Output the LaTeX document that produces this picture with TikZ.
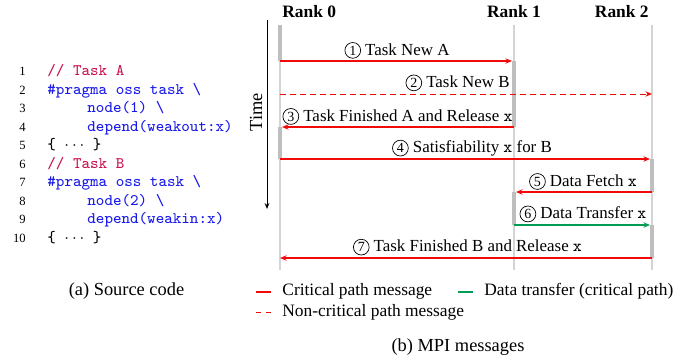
\documentclass[tikz,border=0pt]{standalone}
\usepackage{fontspec}
\setmainfont{Liberation Serif}
\usetikzlibrary{arrows.meta}
\definecolor{codeblue}{RGB}{25,25,235}
\definecolor{codecom}{RGB}{200,20,80}
\definecolor{msgred}{RGB}{240,10,10}
\definecolor{msggreen}{RGB}{0,155,85}
\definecolor{lifegray}{RGB}{212,212,212}
\definecolor{bargray}{RGB}{190,190,190}
\newcommand\cnum[1]{\tikz[baseline=(cn.base)]\node[circle,draw=black,line width=0.35pt,inner sep=0.75pt,anchor=center,font=\fontsize{7}{7}\selectfont,text=black](cn){#1};}
\begin{document}
\begin{tikzpicture}[x=0.5pt,y=-0.5pt,
  rank/.style={font=\fontsize{8.7}{10}\selectfont\bfseries, inner sep=0pt},
  lbl/.style={font=\fontsize{8.45}{9.6}\selectfont, inner sep=0pt, anchor=base},
  captxt/.style={font=\fontsize{9.2}{11}\selectfont, inner sep=0pt},
  legtxt/.style={font=\fontsize{8.7}{10}\selectfont, inner sep=0pt, anchor=base west},
  code/.style={font=\fontsize{8.05}{9}\selectfont\ttfamily, inner sep=0pt, anchor=base west, text=codeblue},
  comm/.style={code, text=codecom},
  lnum/.style={font=\fontsize{6.3}{7}\selectfont, inner sep=0pt, anchor=base east},
  life/.style={draw=lifegray, line width=0.6pt},
  actbar/.style={fill=bargray},
  msg/.style={draw=msgred, line width=0.65pt, -{Stealth[length=3.3pt,width=2.7pt]}},
  ncmsg/.style={msg, line width=0.5pt, dash pattern=on 2.8pt off 2.2pt},
  dmsg/.style={msg, draw=msggreen},
]
\useasboundingbox (0,0) rectangle (688,361);

% ---------------- source code ----------------
\foreach \k in {1,...,10}{
  \node[lnum] (ln\k) at (26,{75.5+(\k-1)*18.56}) {\k};
}
\node[comm] (c1) at (47,75.5) {// Task A};
\node[code] (c2) at (47,94.06) {\#pragma oss task \textbackslash};
\node[code] (c3) at (87,112.62) {node(1) \textbackslash};
\node[code] (c4) at (87,131.18) {depend(weakout:x)};
\node[code,text=black] (c5) at (47,149.74) {\{ $\cdots$ \}};
\node[comm] (c6) at (47,168.3) {// Task B};
\node[code] (c7) at (47,186.86) {\#pragma oss task \textbackslash};
\node[code] (c8) at (87,205.42) {node(2) \textbackslash};
\node[code] (c9) at (87,223.98) {depend(weakin:x)};
\node[code,text=black] (c10) at (47,242.54) {\{ $\cdots$ \}};
\node[captxt, anchor=base] (capa) at (126.5,295) {(a) Source code};

% ---------------- ranks ----------------
\node[rank, anchor=base west] (rk0) at (282,17.5) {Rank 0};
\node[rank, anchor=base] (rk1) at (514,17.5) {Rank 1};
\node[rank, anchor=base east] (rk2) at (649,17.5) {Rank 2};

\coordinate (r0t) at (280,25); \coordinate (r0b) at (280,270);
\coordinate (r1t) at (514,25); \coordinate (r1b) at (514,270);
\coordinate (r2t) at (652,25); \coordinate (r2b) at (652,270);
\draw[life] (r0t) -- (r0b);
\draw[life] (r1t) -- (r1b);
\draw[life] (r2t) -- (r2b);

% activation bars
\fill[actbar] (278,25) rectangle (282,61);
\fill[actbar] (512,61) rectangle (516,127);
\fill[actbar] (278,127) rectangle (282,159);
\fill[actbar] (650,159) rectangle (654,192);
\fill[actbar] (512,192) rectangle (516,225);
\fill[actbar] (650,225) rectangle (654,258);

% time axis
\coordinate (tt) at (267,20); \coordinate (tb) at (267,209);
\draw[line width=0.5pt, -{Stealth[length=3pt,width=2.4pt]}] (tt) -- (tb);
\node[captxt, rotate=90] (time) at (256,112) {Time};

% messages
\coordinate (m1a) at (280,61);  \coordinate (m1b) at (512,61);
\coordinate (m2a) at (280,94);  \coordinate (m2b) at (652,94);
\coordinate (m3a) at (514,127); \coordinate (m3b) at (282,127);
\coordinate (m4a) at (280,159); \coordinate (m4b) at (650,159);
\coordinate (m5a) at (652,192); \coordinate (m5b) at (516,192);
\coordinate (m6a) at (514,225); \coordinate (m6b) at (650,225);
\coordinate (m7a) at (652,258); \coordinate (m7b) at (280,258);
\draw[msg] (m1a) -- (m1b);
\draw[ncmsg] (m2a) -- (m2b);
\draw[msg] (m3a) -- (m3b);
\draw[msg] (m4a) -- (m4b);
\draw[msg] (m5a) -- (m5b);
\draw[dmsg] (m6a) -- (m6b);
\draw[msg] (m7a) -- (m7b);

\node[lbl] (l1) at (397,55) {\cnum{1} Task New A};
\node[lbl, anchor=base east] (l2) at (510,87.5) {\cnum{2} Task New B};
\node[lbl] (l3) at (397.5,121) {\cnum{3} Task Finished A and Release \texttt{x}};
\node[lbl] (l4) at (472,152.7) {\cnum{4} Satisfiability \texttt{x} for B};
\node[lbl] (l5) at (583,186) {\cnum{5} Data Fetch \texttt{x}};
\node[lbl] (l6) at (583,218.5) {\cnum{6} Data Transfer \texttt{x}};
\node[lbl] (l7) at (467.5,251.7) {\cnum{7} Task Finished B and Release \texttt{x}};

% legend
\draw[draw=msgred, line width=0.9pt] (256,291.7) -- (271,291.7);
\node[legtxt] (lg1) at (282,295.7) {Critical path message};
\draw[draw=msggreen, line width=0.9pt] (458,291.7) -- (473,291.7);
\node[legtxt] (lg2) at (484,295.7) {Data transfer (critical path)};
\draw[draw=msgred, line width=0.5pt, dash pattern=on 2.5pt off 2.5pt] (256,312.5) -- (271,312.5);
\node[legtxt] (lg3) at (282,316.7) {Non-critical path message};
\node[captxt, anchor=base] (capb) at (458,351.7) {(b) MPI messages};
\end{tikzpicture}
\end{document}
